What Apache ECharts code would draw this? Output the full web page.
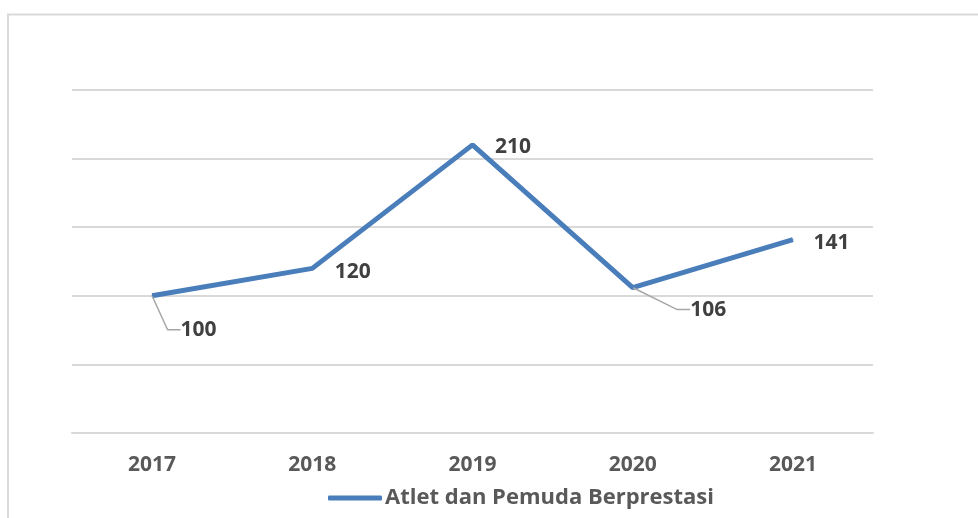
<!DOCTYPE html>
<html>
<head>
    <meta charset="UTF-8">
    <title>Atlet dan Pemuda Berprestasi</title>
    <script src="https://cdn.jsdelivr.net/npm/echarts@6/dist/echarts.min.js"></script>
    <style>
        html, body { margin: 0; padding: 0; background: #fff; }
        #chart { width: 978px; height: 518px; }
    </style>
</head>
<body>
    <div id="chart"></div>
    <script>
        const years = ['2017', '2018', '2019', '2020', '2021'];
        const values = [100, 120, 210, 106, 141];
        const seriesName = 'Atlet dan Pemuda Berprestasi';

        // label shifts (dx, dy) per point, as in the original
        const labelShift = [[23, 34], [17, 4], [17, 2], [52, 22], [15, 3]];
        const withLeader = [true, false, false, true, false];

        const chart = echarts.init(document.getElementById('chart'));

        const option = {
            animation: false,
            graphic: [{
                type: 'rect',
                shape: { x: 8, y: 14.5, width: 1000, height: 600 },
                style: { fill: 'none', stroke: '#d9d9d9', lineWidth: 2 },
                silent: true
            }],
            grid: { left: 72, right: 105, top: 90, bottom: 85 },
            legend: {
                bottom: 4,
                left: 323,
                itemWidth: 54,
                itemHeight: 5,
                itemGap: 2,
                icon: 'roundRect',
                data: [seriesName],
                textStyle: {
                    color: '#595959',
                    fontSize: 22,
                    fontWeight: 'bold',
                    fontFamily: 'Open Sans',
                    padding: [0, 0, 0, -2]
                }
            },
            xAxis: {
                type: 'category',
                data: years,
                boundaryGap: true,
                axisTick: { show: false },
                axisLine: { lineStyle: { color: '#d9d9d9', width: 2 } },
                axisLabel: {
                    margin: 22,
                    color: '#595959',
                    fontSize: 21,
                    fontWeight: 'bold',
                    fontFamily: 'Open Sans'
                }
            },
            yAxis: {
                type: 'value',
                min: 0,
                max: 250,
                interval: 50,
                axisLabel: { show: false },
                axisLine: { show: false },
                axisTick: { show: false },
                splitLine: { lineStyle: { color: '#d9d9d9', width: 2 } }
            },
            series: [{
                name: seriesName,
                type: 'line',
                data: values.map(function (v, i) {
                    return withLeader[i]
                        ? { value: v, labelLine: { show: true } }
                        : { value: v };
                }),
                showSymbol: true,
                symbol: 'circle',
                symbolSize: 1,
                itemStyle: { color: '#4a7ebb' },
                lineStyle: { color: '#4a7ebb', width: 5 },
                label: {
                    show: true,
                    position: 'right',
                    color: '#404040',
                    fontSize: 21,
                    fontWeight: 'bold',
                    fontFamily: 'Open Sans'
                },
                labelLine: {
                    show: false,
                    length2: 13,
                    lineStyle: { color: '#a6a6a6', width: 1.5 }
                },
                labelLayout: function (params) {
                    const s = labelShift[params.dataIndex];
                    return { dx: s[0], dy: s[1] };
                }
            }]
        };

        chart.setOption(option);
    </script>
</body>
</html>
